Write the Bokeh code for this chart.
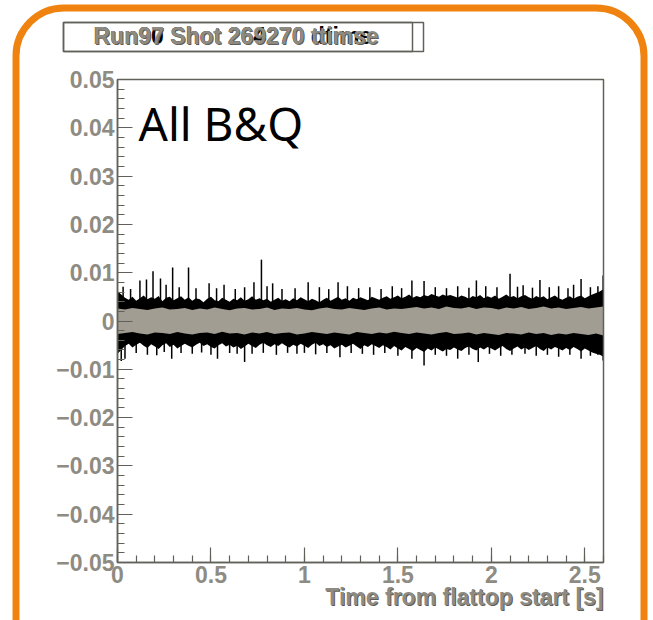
import numpy as np
from bokeh.plotting import figure
from bokeh.models import Range1d, FixedTicker, BoxAnnotation, Label
from bokeh.embed import file_html
from bokeh.resources import INLINE

# ---- data -------------------------------------------------------------
# Envelope of the black signal (upper and lower edge), every 0.02 s from 0 to 2.6 s
black_hi = [
    0.0062, 0.0055, 0.0048, 0.0044, 0.0050, 0.0042, 0.0047, 0.0053, 0.0045, 0.0049,
    0.0046, 0.0052, 0.0041, 0.0048, 0.0050, 0.0043, 0.0047, 0.0051, 0.0044, 0.0049,
    0.0042, 0.0047, 0.0045, 0.0039, 0.0046, 0.0050, 0.0043, 0.0041, 0.0048, 0.0044,
    0.0040, 0.0046, 0.0043, 0.0049, 0.0042, 0.0045, 0.0051, 0.0044, 0.0047, 0.0043,
    0.0046, 0.0040, 0.0044, 0.0048, 0.0042, 0.0045, 0.0041, 0.0047, 0.0043, 0.0049,
    0.0045, 0.0041, 0.0046, 0.0043, 0.0039, 0.0044, 0.0048, 0.0042, 0.0046, 0.0050,
    0.0044, 0.0047, 0.0042, 0.0048, 0.0045, 0.0049, 0.0046, 0.0043, 0.0050, 0.0047,
    0.0044, 0.0048, 0.0051, 0.0046, 0.0049, 0.0053, 0.0047, 0.0050, 0.0055, 0.0048,
    0.0052, 0.0049, 0.0054, 0.0051, 0.0056, 0.0053, 0.0050, 0.0055, 0.0052, 0.0054,
    0.0051, 0.0048, 0.0053, 0.0050, 0.0046, 0.0052, 0.0049, 0.0054, 0.0047, 0.0051,
    0.0048, 0.0053, 0.0046, 0.0050, 0.0055, 0.0049, 0.0052, 0.0047, 0.0051, 0.0054,
    0.0049, 0.0046, 0.0052, 0.0048, 0.0051, 0.0045, 0.0049, 0.0053, 0.0047, 0.0044,
    0.0048, 0.0051, 0.0046, 0.0050, 0.0053, 0.0047, 0.0051, 0.0055, 0.0058, 0.0061,
    0.0066,
]
black_lo = [
    -0.0068, -0.0060, -0.0052, -0.0047, -0.0055, -0.0049, -0.0045, -0.0051, -0.0056, -0.0048,
    -0.0053, -0.0058, -0.0050, -0.0046, -0.0054, -0.0049, -0.0057, -0.0052, -0.0047, -0.0051,
    -0.0055, -0.0049, -0.0045, -0.0052, -0.0048, -0.0054, -0.0057, -0.0050, -0.0046, -0.0053,
    -0.0049, -0.0055, -0.0051, -0.0058, -0.0053, -0.0047, -0.0052, -0.0056, -0.0049, -0.0045,
    -0.0050, -0.0054, -0.0048, -0.0052, -0.0046, -0.0051, -0.0055, -0.0049, -0.0053, -0.0047,
    -0.0051, -0.0056, -0.0049, -0.0045, -0.0052, -0.0048, -0.0054, -0.0050, -0.0057, -0.0053,
    -0.0049, -0.0055, -0.0051, -0.0047, -0.0053, -0.0058, -0.0050, -0.0054, -0.0048, -0.0052,
    -0.0056, -0.0050, -0.0054, -0.0059, -0.0052, -0.0057, -0.0061, -0.0054, -0.0058, -0.0062,
    -0.0056, -0.0060, -0.0064, -0.0057, -0.0061, -0.0055, -0.0059, -0.0063, -0.0058, -0.0060,
    -0.0055, -0.0059, -0.0062, -0.0056, -0.0053, -0.0058, -0.0061, -0.0055, -0.0059, -0.0054,
    -0.0057, -0.0061, -0.0056, -0.0052, -0.0058, -0.0062, -0.0057, -0.0053, -0.0059, -0.0055,
    -0.0060, -0.0056, -0.0052, -0.0058, -0.0062, -0.0055, -0.0059, -0.0054, -0.0057, -0.0061,
    -0.0056, -0.0060, -0.0054, -0.0058, -0.0063, -0.0057, -0.0061, -0.0065, -0.0068, -0.0070,
    -0.0074,
]

# Isolated excursions of the black signal beyond its envelope
spike_t = [
    0.03, 0.07, 0.12, 0.155, 0.19, 0.23, 0.26, 0.295, 0.33, 0.38, 0.42, 0.49, 0.53, 0.57,
    0.63, 0.68, 0.73, 0.77, 0.80, 0.83, 0.88, 0.95, 1.02, 1.08, 1.13, 1.18, 1.23, 1.29,
    1.35, 1.41, 1.47, 1.52, 1.575, 1.64, 1.70, 1.76, 1.82, 1.88, 1.92, 1.97, 2.03, 2.10,
    2.14, 2.17, 2.22, 2.26, 2.31, 2.36, 2.41, 2.44, 2.48, 2.53, 2.57, 2.598,
    0.02, 0.04, 0.10, 0.16, 0.21, 0.25, 0.29, 0.34, 0.40, 0.45, 0.50, 0.535, 0.60, 0.64,
    0.68, 0.72, 0.78, 0.85, 0.91, 0.96, 1.00, 1.06, 1.12, 1.19, 1.25, 1.31, 1.37, 1.43,
    1.50, 1.575, 1.64, 1.70, 1.76, 1.82, 1.88, 1.93, 1.99, 2.05, 2.11, 2.18, 2.24, 2.30,
    2.36, 2.42, 2.48, 2.53, 2.57, 2.598,
]
spike_v = [
    0.0071, 0.0066, 0.0084, 0.0086, 0.0103, 0.0088, 0.0075, 0.0111, 0.0070, 0.0111, 0.0068,
    0.0078, 0.0068, 0.0075, 0.0066, 0.0070, 0.0080, 0.0127, 0.0072, 0.0078, 0.0066, 0.0068,
    0.0080, 0.0070, 0.0066, 0.0080, 0.0072, 0.0068, 0.0070, 0.0066, 0.0072, 0.0068, 0.0084,
    0.0083, 0.0070, 0.0068, 0.0072, 0.0069, 0.0084, 0.0072, 0.0070, 0.0098, 0.0071, 0.0074,
    0.0069, 0.0085, 0.0070, 0.0072, 0.0068, 0.0075, 0.0087, 0.0070, 0.0072, 0.0094,
    -0.0083, -0.0078, -0.0066, -0.0070, -0.0071, -0.0064, -0.0078, -0.0066, -0.0068, -0.0065,
    -0.0070, -0.0078, -0.0066, -0.0068, -0.0085, -0.0068, -0.0066, -0.0070, -0.0066, -0.0068,
    -0.0066, -0.0069, -0.0066, -0.0075, -0.0066, -0.0068, -0.0070, -0.0066, -0.0072, -0.0078,
    -0.0092, -0.0070, -0.0072, -0.0078, -0.0070, -0.0085, -0.0068, -0.0072, -0.0070, -0.0068,
    -0.0072, -0.0070, -0.0074, -0.0070, -0.0078, -0.0072, -0.0070, -0.0082,
]

# Envelope of the grey signal, every 0.04 s from 0 to 2.6 s
grey_hi = [
    0.0026, 0.0024, 0.0027, 0.0025, 0.0023, 0.0026, 0.0028, 0.0024, 0.0025, 0.0027,
    0.0023, 0.0026, 0.0024, 0.0028, 0.0025, 0.0022, 0.0026, 0.0027, 0.0024, 0.0025,
    0.0028, 0.0023, 0.0026, 0.0025, 0.0027, 0.0024, 0.0022, 0.0026, 0.0028, 0.0025,
    0.0024, 0.0027, 0.0025, 0.0023, 0.0026, 0.0028, 0.0024, 0.0026, 0.0025, 0.0027,
    0.0029, 0.0026, 0.0028, 0.0025, 0.0030, 0.0027, 0.0026, 0.0029, 0.0025, 0.0028,
    0.0027, 0.0024, 0.0028, 0.0026, 0.0029, 0.0025, 0.0027, 0.0030, 0.0026, 0.0028,
    0.0025, 0.0027, 0.0029, 0.0026, 0.0028, 0.0030,
]
grey_lo = [
    -0.0027, -0.0025, -0.0023, -0.0026, -0.0028, -0.0024, -0.0025, -0.0027, -0.0023, -0.0026,
    -0.0028, -0.0025, -0.0024, -0.0027, -0.0022, -0.0026, -0.0025, -0.0028, -0.0024, -0.0026,
    -0.0023, -0.0027, -0.0025, -0.0024, -0.0028, -0.0026, -0.0023, -0.0025, -0.0027, -0.0024,
    -0.0026, -0.0028, -0.0023, -0.0025, -0.0027, -0.0024, -0.0026, -0.0022, -0.0025, -0.0027,
    -0.0024, -0.0026, -0.0028, -0.0025, -0.0023, -0.0027, -0.0026, -0.0024, -0.0028, -0.0025,
    -0.0027, -0.0029, -0.0025, -0.0026, -0.0028, -0.0024, -0.0027, -0.0025, -0.0029, -0.0026,
    -0.0028, -0.0025, -0.0027, -0.0029, -0.0026, -0.0030,
]

x_ticks = [0, 0.5, 1, 1.5, 2, 2.5]
x_tick_labels = ["0", "0.5", "1", "1.5", "2", "2.5"]
y_ticks = [-0.05, -0.04, -0.03, -0.02, -0.01, 0, 0.01, 0.02, 0.03, 0.04, 0.05]
y_tick_labels = ["\u22120.05", "\u22120.04", "\u22120.03", "\u22120.02", "\u22120.01", "0",
                 "0.01", "0.02", "0.03", "0.04", "0.05"]

X_MIN, X_MAX = 0.0, 2.6
Y_MIN, Y_MAX = -0.05, 0.05

t_black = np.linspace(X_MIN, X_MAX, len(black_hi))
t_grey = np.linspace(X_MIN, X_MAX, len(grey_hi))

# ---- page geometry (pixels) -------------------------------------------
W, H = 653, 620
AX_LEFT, AX_RIGHT, AX_TOP, AX_BOTTOM = 117, 603, 79, 562

# The frame spans the whole canvas; the data box sits inside it, so the
# axes are pinned at the data edges and the decorations are drawn in canvas units.
sx = (AX_RIGHT - AX_LEFT) / (X_MAX - X_MIN)
sy = (AX_BOTTOM - AX_TOP) / (Y_MAX - Y_MIN)
x_range = Range1d(X_MIN - AX_LEFT / sx, X_MAX + (W - AX_RIGHT) / sx)
y_range = Range1d(Y_MIN - (H - AX_BOTTOM) / sy, Y_MAX + AX_TOP / sy)

# ---- styles -----------------------------------------------------------
AXIS_GREY = "#62605a"
LABEL_GREY = "#8e8b83"
SHADOW_GREY = "#5f5d57"
ORANGE = "#F0820F"
BLACK_SIG = "#000000"
GREY_SIG = "#a19d93"

p = figure(width=W, height=H, output_backend="svg", toolbar_location=None,
           x_range=x_range, y_range=y_range, min_border=0)
p.grid.visible = False
p.background_fill_color = "white"
p.border_fill_color = "white"
p.outline_line_color = None

xa, ya = p.xaxis[0], p.yaxis[0]
xa.fixed_location = Y_MIN
xa.bounds = (X_MIN, X_MAX)
ya.fixed_location = X_MIN
ya.bounds = (Y_MIN, Y_MAX)

for ax, ticks, labels, minor in (
    (xa, x_ticks, x_tick_labels, np.round(np.arange(0, 2.61, 0.1), 3).tolist()),
    (ya, y_ticks, y_tick_labels, np.round(np.arange(-0.05, 0.0501, 0.002), 4).tolist()),
):
    ax.ticker = FixedTicker(ticks=ticks, minor_ticks=minor)
    ax.major_label_overrides = {tk: lb for tk, lb in zip(ticks, labels)}
    ax.axis_line_color = AXIS_GREY
    ax.axis_line_width = 1.5
    ax.major_tick_line_color = AXIS_GREY
    ax.minor_tick_line_color = AXIS_GREY
    ax.major_tick_line_width = 1.2
    ax.minor_tick_line_width = 1.2
    ax.major_tick_in = 15
    ax.major_tick_out = 0
    ax.minor_tick_in = 7
    ax.minor_tick_out = 0
    ax.major_label_text_font = "Liberation Sans"
    ax.major_label_text_font_style = "bold"
    ax.major_label_text_font_size = "23px"
    ax.major_label_text_color = LABEL_GREY
    ax.major_label_standoff = 3

# black signal: envelope band plus excursions
p.varea(x=t_black, y1=0, y2=black_hi, fill_color=BLACK_SIG)
p.varea(x=t_black, y1=black_lo, y2=0, fill_color=BLACK_SIG)
p.segment(x0=spike_t, y0=[0] * len(spike_t), x1=spike_t, y1=spike_v,
          line_color=BLACK_SIG, line_width=1.5)

# grey signal drawn on top
p.varea(x=t_grey, y1=grey_lo, y2=grey_hi, fill_color=GREY_SIG)

# data box (top and right edges complete the axes)
p.add_layout(BoxAnnotation(left=X_MIN, right=X_MAX, bottom=Y_MIN, top=Y_MAX,
                           fill_alpha=0, line_color=AXIS_GREY, line_alpha=1,
                           line_width=1.5))

p.add_layout(Label(x=138, y=122, x_units="canvas", y_units="canvas", text="All B&Q",
                   text_font="Noto Sans", text_font_size="46px", text_color="black",
                   text_baseline="alphabetic"))


def shaded_text(x, y, text, size, align="left"):
    """Grey bold text with a faint dark offset copy underneath."""
    for dx, dy, col in ((1, 1, SHADOW_GREY), (0, 0, LABEL_GREY)):
        p.add_layout(Label(x=x + dx, y=y + dy, x_units="canvas", y_units="canvas",
                           text=text, text_align=align, text_baseline="alphabetic",
                           text_font="Liberation Sans", text_font_style="bold",
                           text_font_size=size, text_color=col))


# x axis title, right-aligned under the axis
shaded_text(603, 596, "Time from flattop start [s]", "23px", align="right")

# title box
p.add_layout(BoxAnnotation(left=63, right=423, top=22, bottom=51,
                           left_units="canvas", right_units="canvas",
                           top_units="canvas", bottom_units="canvas",
                           fill_color="white", fill_alpha=1,
                           line_color=AXIS_GREY, line_alpha=1, line_width=1.5))
p.add_layout(BoxAnnotation(left=63, right=412, top=22, bottom=51,
                           left_units="canvas", right_units="canvas",
                           top_units="canvas", bottom_units="canvas",
                           fill_alpha=0, line_color=AXIS_GREY, line_alpha=1,
                           line_width=1.5))
p.add_layout(Label(x=93, y=35, x_units="canvas", y_units="canvas",
                   text="Run90 Shot 264270 dtime", text_baseline="alphabetic",
                   text_font="Liberation Sans", text_font_style="bold",
                   text_font_size="23px", text_color="black"))
shaded_text(93, 35, "Run97 Shot 269270 ttimse", "23px")

# rounded orange frame around the whole panel
p.add_layout(BoxAnnotation(left=15.5, right=643.5, top=7.5, bottom=700,
                           left_units="canvas", right_units="canvas",
                           top_units="canvas", bottom_units="canvas",
                           fill_alpha=0, line_color=ORANGE, line_alpha=1, line_width=7,
                           border_radius=48))

open("out.html", "w").write(file_html(p, INLINE))
